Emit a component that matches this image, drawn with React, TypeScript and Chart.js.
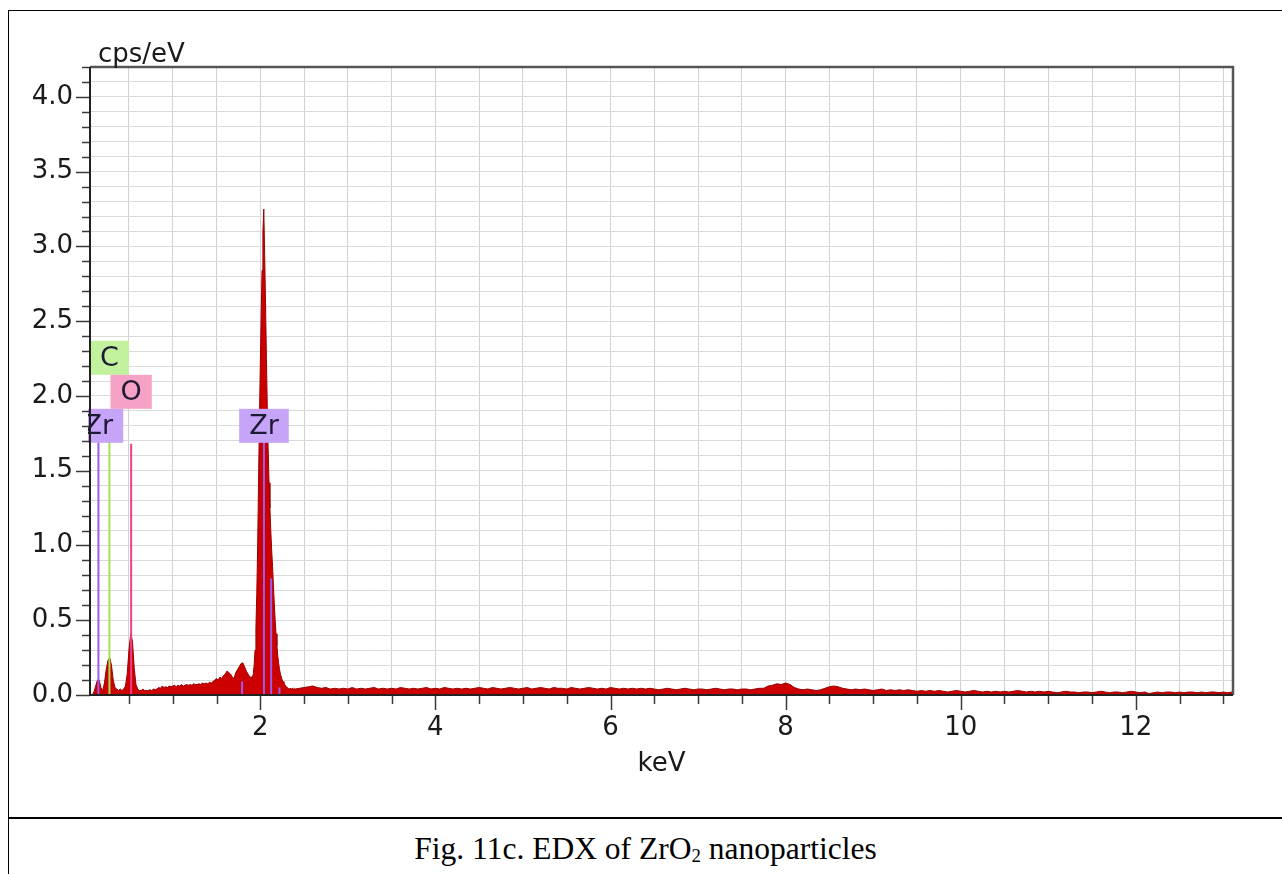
import React, { useEffect, useRef } from 'react';
import { Chart, registerables } from 'chart.js';

Chart.register(...registerables);

// ---------- DATA ----------
// Spectrum (cps/eV) in four channel segments.
const segAStart = 0.06;
const segAStep = 0.02;
const segACounts = [
  0.0, 0.0, 0.02, 0.06, 0.1, 0.1, 0.05, 0.03, 0.08, 0.17, 0.23, 0.25, 0.2, 0.1, 0.05, 0.04, 0.03,
  0.04, 0.03, 0.04, 0.06, 0.14, 0.3, 0.41, 0.36, 0.18, 0.07, 0.04, 0.03, 0.03, 0.04, 0.03, 0.03,
];

const segBStart = 0.72;
const segBStep = 0.02;
const segBCounts = [
  0.03, 0.035, 0.03, 0.04, 0.035, 0.04, 0.05, 0.045, 0.06, 0.05, 0.055, 0.05, 0.06, 0.055, 0.06,
  0.065, 0.055, 0.065, 0.06, 0.07, 0.06, 0.065, 0.07, 0.065, 0.07, 0.065, 0.075, 0.07, 0.07, 0.075,
  0.07, 0.08, 0.075, 0.08, 0.075, 0.085, 0.08, 0.09, 0.1, 0.11, 0.1, 0.12, 0.11, 0.13, 0.14, 0.16,
  0.15, 0.14, 0.12, 0.11, 0.15, 0.17, 0.19, 0.21, 0.215, 0.19, 0.16, 0.14, 0.12,
];

const segCStart = 1.9;
const segCStep = 0.01;
const segCCounts = [
  0.12, 0.12, 0.14, 0.2, 0.3, 0.45, 0.68, 1.0, 1.42, 1.84, 2.2, 2.54, 2.84, 3.1, 3.25, 2.95, 2.62,
  2.25, 1.92, 1.64, 1.42, 1.25, 1.1, 0.97, 0.86, 0.73, 0.61, 0.5, 0.41, 0.33, 0.26, 0.21, 0.17, 0.14,
  0.12, 0.1, 0.09, 0.08, 0.07, 0.06, 0.055, 0.05, 0.045, 0.04, 0.045, 0.04, 0.04, 0.045, 0.04, 0.045,
  0.04,
];

const segDStart = 2.45;
const segDStep = 0.05;
const segDCounts = [
  // 2.45 - 3.40
  0.045, 0.05, 0.055, 0.06, 0.05, 0.045, 0.05, 0.04, 0.045, 0.04, 0.045, 0.04, 0.05, 0.04, 0.045, 0.04, 0.045, 0.05, 0.04, 0.045,
  // 3.45 - 4.40
  0.04, 0.045, 0.04, 0.05, 0.045, 0.04, 0.045, 0.04, 0.045, 0.05, 0.04, 0.045, 0.04, 0.05, 0.045, 0.04, 0.045, 0.04, 0.045, 0.04,
  // 4.45 - 5.40
  0.045, 0.05, 0.045, 0.04, 0.05, 0.045, 0.04, 0.045, 0.05, 0.045, 0.04, 0.045, 0.05, 0.04, 0.045, 0.05, 0.045, 0.04, 0.05, 0.045,
  // 5.45 - 6.40
  0.045, 0.04, 0.05, 0.045, 0.04, 0.045, 0.05, 0.045, 0.04, 0.045, 0.04, 0.05, 0.045, 0.04, 0.045, 0.04, 0.045, 0.04, 0.045, 0.04,
  // 6.45 - 7.40
  0.045, 0.04, 0.035, 0.04, 0.045, 0.04, 0.035, 0.04, 0.045, 0.04, 0.035, 0.04, 0.04, 0.035, 0.04, 0.045, 0.04, 0.035, 0.04, 0.04,
  // 7.45 - 8.40
  0.035, 0.04, 0.04, 0.035, 0.04, 0.045, 0.045, 0.06, 0.065, 0.075, 0.07, 0.08, 0.07, 0.05, 0.04, 0.035, 0.04, 0.035, 0.03, 0.035,
  // 8.45 - 9.40
  0.045, 0.055, 0.06, 0.055, 0.045, 0.04, 0.035, 0.04, 0.035, 0.04, 0.035, 0.03, 0.035, 0.04, 0.03, 0.035, 0.03, 0.035, 0.03, 0.035,
  // 9.45 - 10.40
  0.03, 0.025, 0.03, 0.025, 0.03, 0.025, 0.03, 0.025, 0.02, 0.025, 0.03, 0.025, 0.02, 0.025, 0.03, 0.025, 0.02, 0.025, 0.02, 0.025,
  // 10.45 - 11.40
  0.02, 0.025, 0.02, 0.025, 0.03, 0.025, 0.02, 0.025, 0.02, 0.025, 0.02, 0.025, 0.02, 0.015, 0.02, 0.025, 0.02, 0.02, 0.015, 0.02,
  // 11.45 - 12.40
  0.02, 0.015, 0.02, 0.025, 0.02, 0.015, 0.02, 0.02, 0.015, 0.02, 0.025, 0.02, 0.015, 0.02, 0.01, 0.015, 0.02, 0.015, 0.02, 0.02,
  // 12.45 - 13.10
  0.015, 0.02, 0.015, 0.02, 0.02, 0.015, 0.02, 0.015, 0.02, 0.02, 0.015, 0.02, 0.015, 0.02,
];

// Element marker lines (keV, cps/eV height)
const lineElements = ['Zr', 'C', 'O', 'Zr', 'Zr', 'Zr', 'Zr'];
const lineEnergies = [0.151, 0.277, 0.525, 1.792, 2.042, 2.124, 2.219];
const lineHeights = [1.7, 1.7, 1.68, 0.09, 1.7, 0.78, 0.05];

// Element labels
const labelTexts = ['Zr', 'C', 'O', 'Zr'];
const labelEnergies = [0.151, 0.277, 0.525, 2.042];
const labelStackLevel = [0, 2, 1, 0];
const labelBaseValue = 1.7;

// Axes
const xMin = 0.055;
const xMax = 13.11;
const xMinorStep = 0.5;
const xTickLabels = ['2', '4', '6', '8', '10', '12'];
const yMin = 0;
const yMax = 4.2;
const yMinorStep = 0.1;
const yTickLabels = ['0.0', '0.5', '1.0', '1.5', '2.0', '2.5', '3.0', '3.5', '4.0'];
const xTitle = 'keV';
const yTitle = 'cps/eV';
const caption = 'Fig. 11c. EDX of ZrO';
const captionSub = '2';
const captionTail = ' nanoparticles';

// ---------- STYLE ----------
const elementColors: Record<string, { line: string; box: string }> = {
  Zr: { line: '#9a5cf0', box: '#c6a4f8' },
  C: { line: '#a6e04e', box: '#c2f29e' },
  O: { line: '#ee3f86', box: '#f6a2c6' },
};
const FONT = '"DejaVu Sans", Verdana, sans-serif';

function segment(start: number, step: number, counts: number[]) {
  return counts.map((c, i) => ({ x: Math.round((start + i * step) * 1000) / 1000, y: c }));
}

const spectrum = [
  ...segment(segAStart, segAStep, segACounts),
  ...segment(segBStart, segBStep, segBCounts),
  ...segment(segCStart, segCStep, segCCounts),
  ...segment(segDStart, segDStep, segDCounts),
];

const isLabeledX = (v: number) => xTickLabels.includes(String(Math.round(v * 1000) / 1000));
const yLabelFor = (v: number) => {
  const s = (Math.round(v * 100) / 100).toFixed(1);
  return yTickLabels.includes(s) && Math.abs(v * 10 - Math.round(v * 10)) < 1e-6 ? s : '';
};

const overlayPlugin = {
  id: 'edxOverlay',
  afterDatasetsDraw(chart: any) {
    const { ctx, chartArea, scales } = chart;
    const x = scales.x;
    const y = scales.y;
    ctx.save();
    ctx.beginPath();
    ctx.rect(chartArea.left - 2, chartArea.top, chartArea.right - chartArea.left + 2, chartArea.bottom - chartArea.top);
    ctx.clip();
    ctx.font = `27px ${FONT}`;
    const h = 34;
    labelTexts.forEach((t, i) => {
      const cx = x.getPixelForValue(labelEnergies[i]);
      const bottom = y.getPixelForValue(labelBaseValue) + 2 - labelStackLevel[i] * h;
      const w = ctx.measureText(t).width + 20;
      ctx.fillStyle = elementColors[t].box;
      ctx.fillRect(cx - w / 2, bottom - h, w, h);
      ctx.fillStyle = '#1d1a33';
      ctx.textAlign = 'center';
      ctx.textBaseline = 'middle';
      ctx.fillText(t, cx, bottom - h / 2 + 1);
    });
    ctx.restore();
  },
  afterDraw(chart: any) {
    const { ctx, chartArea, scales } = chart;
    const x = scales.x;
    const y = scales.y;
    const { left, right, top, bottom } = chartArea;
    ctx.save();
    // tick marks
    ctx.strokeStyle = '#3a3a3a';
    ctx.lineWidth = 1.5;
    y.ticks.forEach((t: any) => {
      const py = Math.round(y.getPixelForValue(t.value)) + 0.5;
      const major = yLabelFor(t.value) !== '';
      const len = major ? 14 : 8;
      ctx.beginPath();
      ctx.moveTo(left - len, py);
      ctx.lineTo(left, py);
      ctx.stroke();
    });
    x.ticks.forEach((t: any) => {
      const px = Math.round(x.getPixelForValue(t.value)) + 0.5;
      const len = isLabeledX(t.value) ? 15 : 9;
      ctx.beginPath();
      ctx.moveTo(px, bottom);
      ctx.lineTo(px, bottom + len);
      ctx.stroke();
    });
    // frame
    ctx.lineWidth = 2.5;
    ctx.strokeStyle = '#555';
    ctx.beginPath();
    ctx.moveTo(left, top);
    ctx.lineTo(right, top);
    ctx.lineTo(right, bottom);
    ctx.stroke();
    ctx.strokeStyle = '#222';
    ctx.lineWidth = 2;
    ctx.beginPath();
    ctx.moveTo(left, top);
    ctx.lineTo(left, bottom);
    ctx.lineTo(right, bottom);
    ctx.stroke();
    // titles
    ctx.fillStyle = '#1a1a1a';
    ctx.font = `26px ${FONT}`;
    ctx.textAlign = 'left';
    ctx.textBaseline = 'alphabetic';
    ctx.fillText(yTitle, left + 8, top - 5);
    ctx.textAlign = 'center';
    ctx.fillText(xTitle, (left + right) / 2, bottom + 76);
    ctx.restore();
  },
};

export default function App() {
  const ref = useRef<HTMLCanvasElement>(null);

  useEffect(() => {
    document.documentElement.style.overflow = 'hidden';
    document.body.style.overflow = 'hidden';
    const canvas = ref.current;
    if (!canvas) return;

    const lineDatasets = lineEnergies.map((e, i) => ({
      type: 'line' as const,
      label: lineElements[i],
      data: [
        { x: e, y: 0 },
        { x: e, y: lineHeights[i] },
      ],
      borderColor: elementColors[lineElements[i]].line,
      borderWidth: 2,
      pointRadius: 0,
      fill: false,
      order: 1,
    }));

    const chart = new Chart(canvas, {
      type: 'line',
      data: {
        datasets: [
          {
            label: 'spectrum',
            data: spectrum,
            borderColor: '#9a0000',
            borderWidth: 1,
            backgroundColor: '#cc0000',
            fill: 'origin',
            pointRadius: 0,
            tension: 0,
            order: 2,
          },
          ...lineDatasets,
        ] as any,
      },
      options: {
        animation: false,
        responsive: false,
        events: [],
        layout: { padding: { top: 56, right: 49, left: 0, bottom: 0 } },
        plugins: {
          legend: { display: false },
          tooltip: { enabled: false },
          title: { display: false },
        },
        scales: {
          x: {
            type: 'linear',
            min: xMin,
            max: xMax,
            afterBuildTicks: (s: any) => {
              const ticks = [];
              for (let v = xMinorStep; v <= xMax + 1e-9; v += xMinorStep) {
                ticks.push({ value: Math.round(v * 1000) / 1000 });
              }
              s.ticks = ticks;
            },
            afterFit: (s: any) => {
              s.height = 122;
            },
            ticks: {
              autoSkip: false,
              maxRotation: 0,
              minRotation: 0,
              padding: 18,
              color: '#1a1a1a',
              font: { family: FONT, size: 26 },
              callback: (v: any) => (isLabeledX(Number(v)) ? String(Math.round(Number(v))) : ''),
            },
            grid: { color: '#d2d2d2', lineWidth: 1, drawTicks: false },
            border: { display: false },
          },
          y: {
            type: 'linear',
            min: yMin,
            max: yMax,
            afterBuildTicks: (s: any) => {
              const ticks = [];
              for (let v = yMin; v <= yMax + 1e-9; v += yMinorStep) {
                ticks.push({ value: Math.round(v * 1000) / 1000 });
              }
              s.ticks = ticks;
            },
            afterFit: (s: any) => {
              s.width = 81;
            },
            ticks: {
              autoSkip: false,
              padding: 17,
              color: '#1a1a1a',
              font: { family: FONT, size: 26 },
              callback: (v: any) => yLabelFor(Number(v)),
            },
            grid: { color: '#dadada', lineWidth: 1, drawTicks: false },
            border: { display: false },
          },
        },
      },
      plugins: [overlayPlugin],
    } as any);

    return () => chart.destroy();
  }, []);

  return (
    <div
      style={{
        position: 'absolute',
        left: 8,
        top: 10,
        width: 1273,
        height: 863,
        borderTop: '1px solid #000',
        borderLeft: '1px solid #000',
        background: '#fff',
        overflow: 'hidden',
      }}
    >
      <canvas ref={ref} width={1273} height={806} style={{ display: 'block', width: 1273, height: 806 }} />
      <div
        style={{
          borderTop: '2px solid #000',
          height: 55,
          width: 1273,
          display: 'flex',
          alignItems: 'center',
          justifyContent: 'center',
          fontFamily: '"Liberation Serif", "Times New Roman", serif',
          fontSize: 31.5,
          color: '#000',
          paddingTop: 2,
        }}
      >
        <span>
          {caption}
          <sub style={{ fontSize: '0.6em', verticalAlign: '-0.15em' }}>{captionSub}</sub>
          {captionTail}
        </span>
      </div>
    </div>
  );
}
